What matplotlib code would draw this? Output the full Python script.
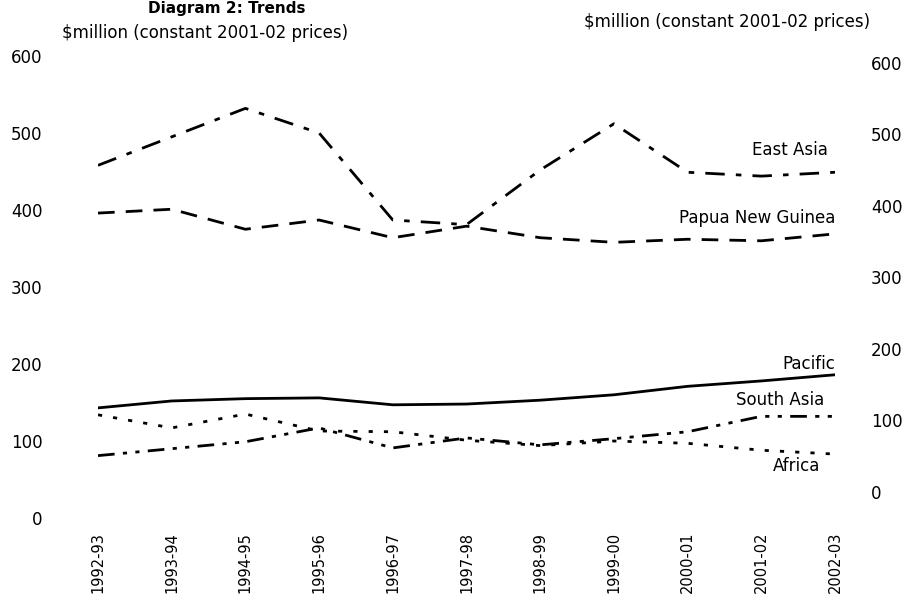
import matplotlib
matplotlib.use('Agg')
import matplotlib.pyplot as plt

# financial years on the x axis
years = ['1992-93', '1993-94', '1994-95', '1995-96', '1996-97', '1997-98',
         '1998-99', '1999-00', '2000-01', '2001-02', '2002-03']

# $million, constant 2001-02 prices
east_asia = [458, 495, 532, 500, 387, 381, 452, 512, 449, 444, 449]
png = [396, 401, 375, 387, 364, 379, 364, 358, 362, 360, 369]
pacific = [143, 152, 155, 156, 147, 148, 153, 160, 171, 178, 186]
south_asia = [81, 90, 99, 117, 91, 104, 95, 103, 112, 132, 132]
africa = [134, 117, 135, 113, 112, 101, 94, 100, 97, 88, 83]

y_ticks = [0, 100, 200, 300, 400, 500, 600]

plt.rcParams['font.family'] = ['DejaVu Sans']
fig = plt.figure(figsize=(9.23, 6), dpi=100)
ax = fig.add_axes([98 / 923, 82 / 600, 737 / 923, 462 / 600])

x = list(range(len(years)))
lw = 2.0
ax.plot(x, east_asia, color='black', lw=lw, dashes=(7, 4, 2, 4))
ax.plot(x, png, color='black', lw=lw, dashes=(6, 4))
ax.plot(x, pacific, color='black', lw=lw)
ax.plot(x, south_asia, color='black', lw=lw, dashes=(6, 3, 1.5, 3, 1.5, 3))
ax.plot(x, africa, color='black', lw=lw, dashes=(1.5, 4))

ax.set_xlim(0, len(years) - 1)
ax.set_ylim(0, 600)
ax.set_yticks(y_ticks)
ax.set_xticks(x)
ax.set_xticklabels(years, rotation=90, fontsize=10.5)
ax.tick_params(axis='x', length=0, pad=10)
ax.tick_params(axis='y', length=0, pad=40, labelsize=12)
for s in ax.spines.values():
    s.set_visible(False)

# right axis is drawn on a slightly different scale in the original
ax2 = ax.twinx()
ax2.set_ylim(-36.4, 609.7)
ax2.set_yticks(y_ticks)
ax2.tick_params(axis='y', length=0, pad=26, labelsize=12)
for s in ax2.spines.values():
    s.set_visible(False)

# series labels
lbl = dict(fontsize=12, ha='right', va='center')
ax.text(9.9, 478, 'East Asia', **lbl)
ax.text(10.0, 389, 'Papua New Guinea', **lbl)
ax.text(10.0, 200, 'Pacific', **lbl)
ax.text(9.85, 153, 'South Asia', **lbl)
ax.text(9.8, 68, 'Africa', **lbl)

fig.text(62 / 923, 1 - 33 / 600, '$million (constant 2001-02 prices)',
         fontsize=12, va='center', ha='left')
fig.text(870 / 923, 1 - 22 / 600, '$million (constant 2001-02 prices)',
         fontsize=12, va='center', ha='right')
fig.text(148 / 923, 0.998, 'Diagram 2: Trends', fontsize=11,
         fontweight='bold', va='top', ha='left')

fig.savefig('out.png', dpi=100)
